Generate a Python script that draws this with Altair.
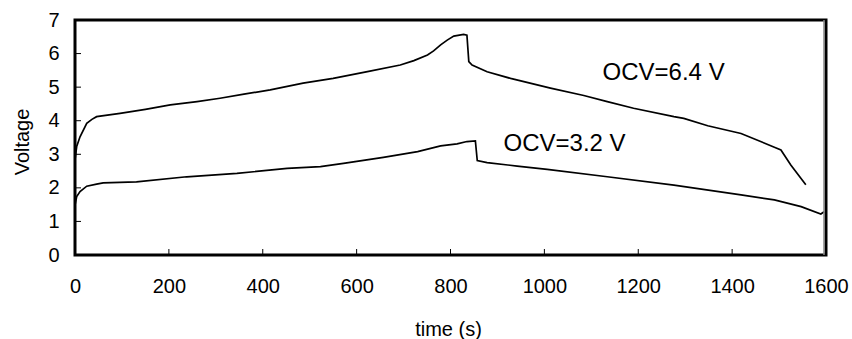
import altair as alt
import pandas as pd

# Upper curve (OCV = 6.4 V)
t_hi = [0, 3.6, 10.7, 25, 36, 46, 96, 150, 203, 260, 309, 360, 416, 486, 550, 623, 693, 722, 751, 764, 779, 793, 807, 828, 835,
        839, 846, 878, 928, 1013, 1084, 1134, 1190, 1276, 1297, 1348, 1419, 1490, 1504, 1525, 1557]
v_hi = [2.83, 3.23, 3.52, 3.92, 4.04, 4.12, 4.22, 4.34, 4.47, 4.57, 4.67, 4.79, 4.92, 5.12, 5.26, 5.46, 5.66, 5.79, 5.96, 6.08, 6.26, 6.40, 6.52, 6.57, 6.55,
        5.76, 5.66, 5.46, 5.26, 4.97, 4.75, 4.57, 4.37, 4.12, 4.07, 3.85, 3.62, 3.21, 3.13, 2.68, 2.09]

# Lower curve (OCV = 3.2 V)
t_lo = [0, 3.6, 10.7, 25, 46, 60, 131, 238, 345, 452, 523, 572, 657, 730, 779, 814, 835, 853,
        857, 878, 942, 1006, 1134, 1276, 1419, 1490, 1547, 1589, 1596]
v_lo = [1.49, 1.74, 1.89, 2.05, 2.11, 2.15, 2.18, 2.33, 2.43, 2.58, 2.63, 2.73, 2.91, 3.08, 3.25, 3.31, 3.38, 3.40,
        2.81, 2.75, 2.65, 2.55, 2.33, 2.08, 1.79, 1.64, 1.44, 1.22, 1.29]

label_text = ["OCV=6.4 V", "OCV=3.2 V"]
label_t = [1124, 913]
label_v = [5.42, 3.31]

x_ticks = [0, 200, 400, 600, 800, 1000, 1200, 1400, 1600]
y_ticks = [0, 1, 2, 3, 4, 5, 6, 7]

W, H = 751, 235
FONT = "Liberation Sans"

df = pd.concat([
    pd.DataFrame({"t": t_hi, "v": v_hi, "s": "hi", "o": range(len(t_hi))}),
    pd.DataFrame({"t": t_lo, "v": v_lo, "s": "lo", "o": range(len(t_lo))}),
])
labels = pd.DataFrame({"text": label_text, "t": label_t, "v": label_v})

xs = alt.Scale(domain=[0, 1600], nice=False, zero=False)
ys = alt.Scale(domain=[0, 7], nice=False)

xaxis = alt.Axis(values=x_ticks, format="d", ticks=False, grid=False, domain=False, labelFontSize=20, labelFont=FONT,
                 labelColor="black", labelPadding=21, labelOverlap=False, labelFlush=False,
                 title="time (s)", titleFont=FONT, titleFontSize=20,
                 titleFontWeight="normal", titleColor="black", titleX=373, titleY=74, titleBaseline="middle",
                 titleAnchor="middle")
yaxis = alt.Axis(values=y_ticks, format="d", ticks=False, grid=False, domain=False, labelFontSize=20, labelFont=FONT,
                 labelColor="black", labelPadding=16, labelOverlap=False, labelFlush=False,
                 title="Voltage", titleFont=FONT, titleFontSize=20,
                 titleFontWeight="normal", titleColor="black", titleX=-53, titleY=H / 2 + 4,
                 titleBaseline="middle", titleAngle=-90, titleAnchor="middle")

X = lambda f: alt.X(f, scale=xs, axis=xaxis, title="time (s)")
Y = lambda f: alt.Y(f, scale=ys, axis=yaxis, title="Voltage")

lines = alt.Chart(df).mark_line(color="black", strokeWidth=1.7).encode(
    x=X("t:Q"), y=Y("v:Q"), detail="s:N", order="o:Q",
)

xt = alt.Chart(pd.DataFrame({"t": x_ticks})).mark_rule(color="black", strokeWidth=1).encode(
    x=X("t:Q"), y=alt.value(H), y2=alt.value(H - 6)
)
yt = alt.Chart(pd.DataFrame({"v": y_ticks})).mark_rule(color="black", strokeWidth=1).encode(
    y=Y("v:Q"), x=alt.value(0), x2=alt.value(6)
)
gray = alt.Chart(pd.DataFrame({"t": [1600]})).mark_rule(color="#888888", strokeWidth=1.5).encode(
    x=alt.value(W - 2), y=alt.value(0), y2=alt.value(H)
)

txt = alt.Chart(labels).mark_text(align="left", baseline="middle", fontSize=24, font=FONT, color="black").encode(
    x=X("t:Q"), y=Y("v:Q"), text="text:N"
)

chart = alt.layer(lines, xt, yt, gray, txt).properties(
    width=W, height=H,
    background="white",
    autosize=alt.AutoSizeParams(type="none"),
    padding={"left": 75, "top": 20, "right": 26, "bottom": 84},
).configure_view(stroke="black", strokeWidth=3)

chart.save("out.html", embed_options={"renderer": "svg", "actions": False})
